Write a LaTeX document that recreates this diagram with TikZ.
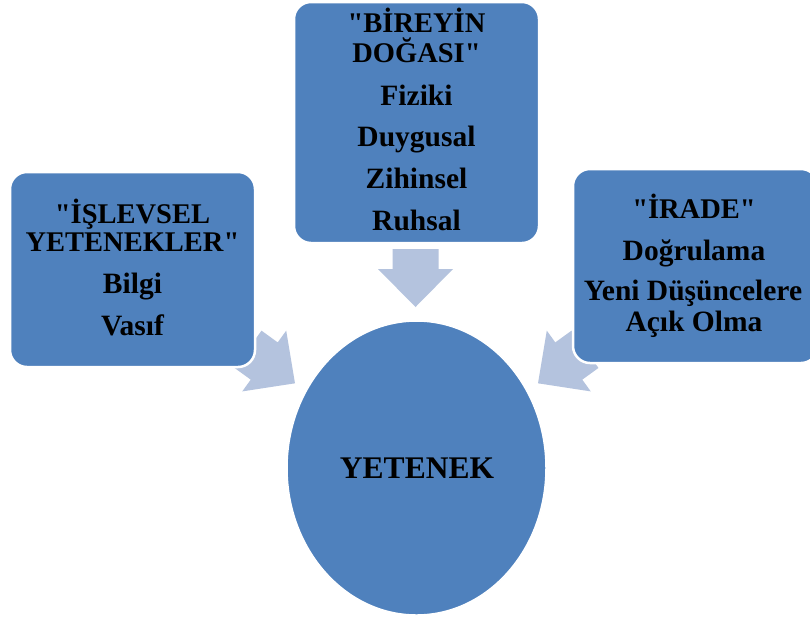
\documentclass[tikz,border=0pt]{standalone}
\usepackage{fontspec}
\setmainfont{Liberation Serif}[Ligatures=TeXOff]
\usetikzlibrary{shapes.geometric}
\definecolor{boxblue}{HTML}{4F81BD}
\definecolor{arrowblue}{HTML}{B4C3DE}
\tikzset{
  box/.style={rectangle, rounded corners=17pt, fill=boxblue, draw=white, line width=2.5pt, inner sep=0pt},
  hub/.style={ellipse, fill=boxblue, draw=white, line width=1.5pt, inner sep=0pt},
  txt/.style={anchor=base, inner sep=0pt, font=\fontsize{29.5}{31}\selectfont\bfseries, text=black},
  ttl/.style={anchor=base, inner sep=0pt, font=\fontsize{28.5}{30}\selectfont\bfseries, text=black},
  bigtxt/.style={anchor=base, inner sep=0pt, font=\fontsize{31.5}{33}\selectfont\bfseries, text=black},
  blockarrow/.style={fill=arrowblue, draw=none}
}
\begin{document}
\begin{tikzpicture}[x=1pt,y=-1pt]
\clip (0,0) rectangle (810,622);
\fill[white] (0,0) rectangle (810,622);
% arrows
\coordinate (tipL) at (295,383.3);
\coordinate (tipT) at (415.5,307);
\coordinate (tipR) at (538,383.3);
\foreach \t/\a in {tipL/-35.9, tipT/-90, tipR/-144.1}{
  \fill[blockarrow, shift={(\t)}, rotate=\a]
    (0,0) -- (-38,37.5) -- (-38,23) -- (-58,23) -- (-58,-23) -- (-38,-23) -- (-38,-37.5) -- cycle;
}
% boxes
\node[box, minimum width=245pt, minimum height=195pt] (left) at (132.5,269.5) {};
\node[box, minimum width=245pt, minimum height=241pt] (top) at (416.5,122.5) {};
\node[box, minimum width=245pt, minimum height=194pt] (right) at (695.5,266) {};
\node[hub, minimum width=259pt, minimum height=294pt] (hub) at (416.5,468) {};
% texts
\node[ttl] (t1) at (416.5,32.5) {"BİREYİN};
\node[ttl] (t2) at (416.5,62.7) {DOĞASI"};
\node[txt] (t3) at (416.5,105) {Fiziki};
\node[txt] (t4) at (416.5,146.7) {Duygusal};
\node[txt] (t5) at (416.5,188.3) {Zihinsel};
\node[txt] (t6) at (416.5,230) {Ruhsal};
\node[ttl] (l1) at (132.5,223) {"İŞLEVSEL};
\node[ttl] (l2) at (132.5,251.7) {YETENEKLER"};
\node[txt] (l3) at (132.5,293.3) {Bilgi};
\node[txt] (l4) at (132.5,335) {Vasıf};
\node[ttl] (r1) at (694,218.3) {"İRADE"};
\node[txt] (r2) at (694,260) {Doğrulama};
\node[txt] (r3) at (693,300) {Yeni Düşüncelere};
\node[txt] (r4) at (694,331.7) {Açık Olma};
\node[bigtxt] (hubtext) at (417,478.3) {YETENEK};
\end{tikzpicture}
\end{document}
